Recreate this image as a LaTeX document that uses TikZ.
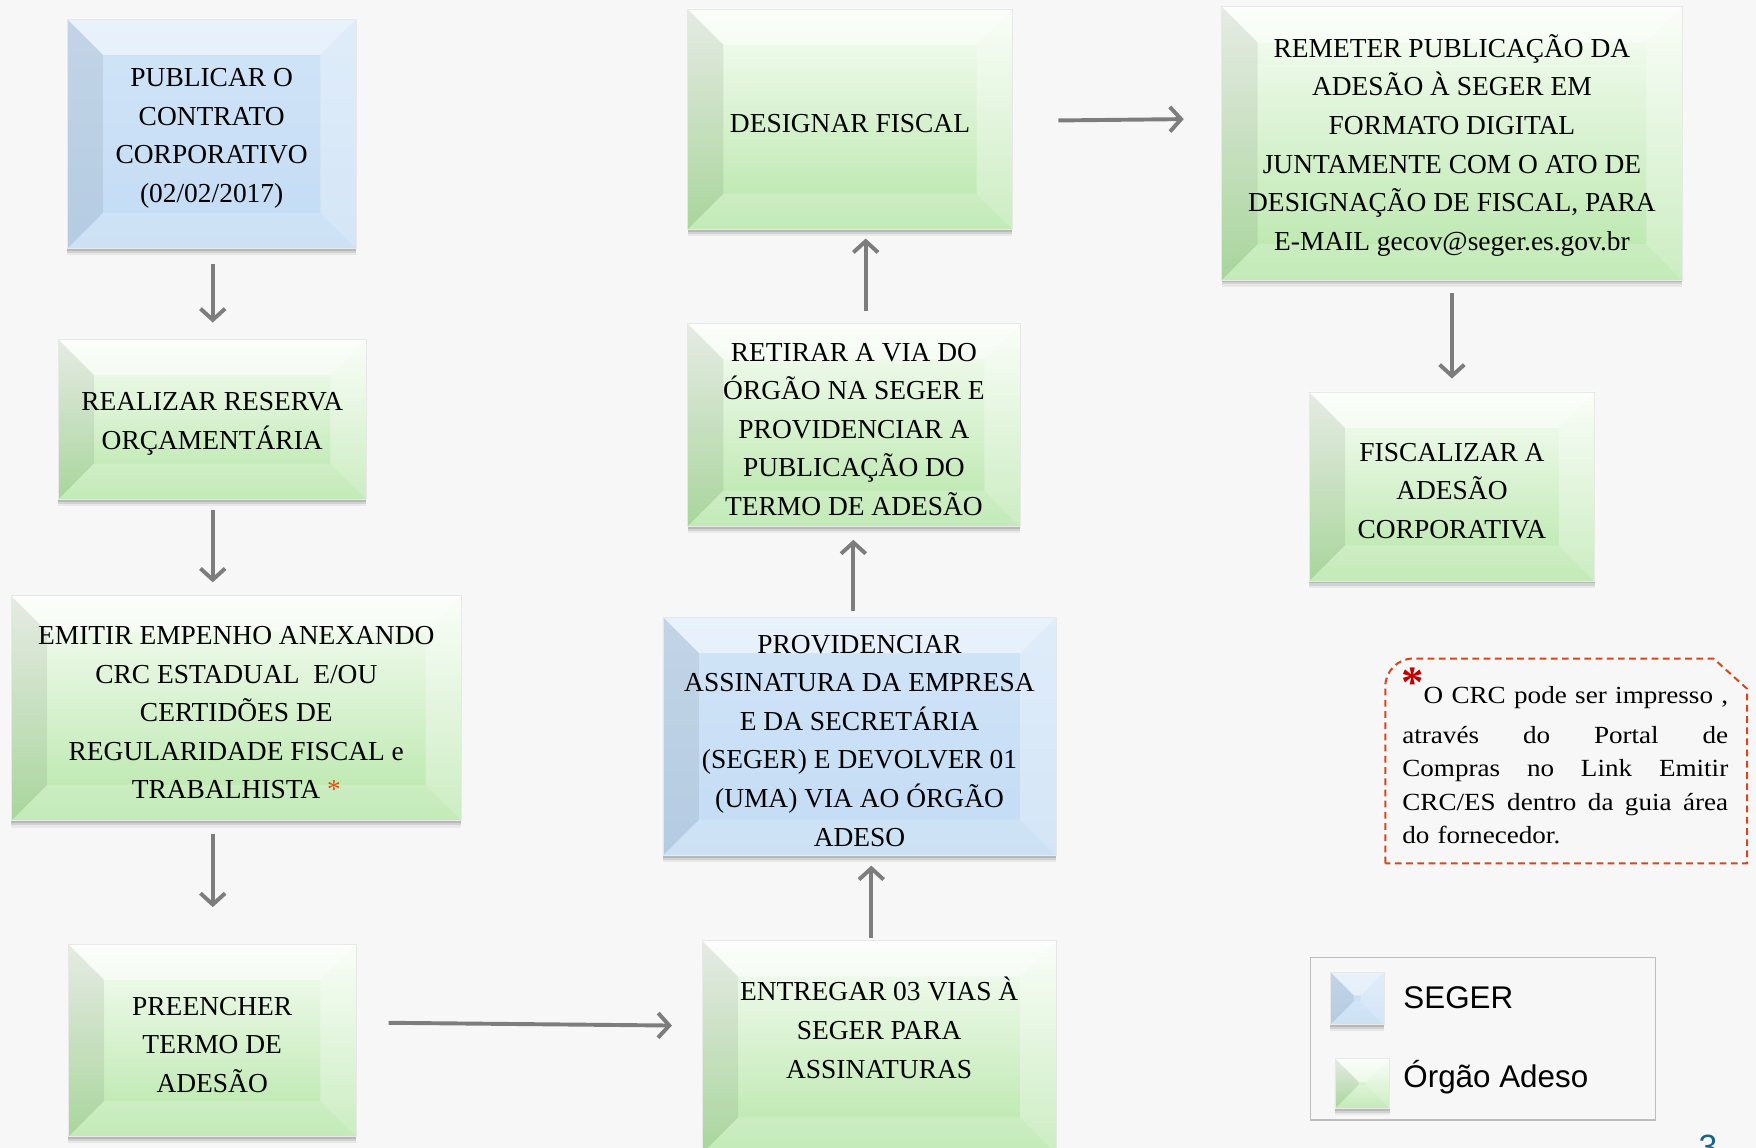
\documentclass[tikz,border=0pt]{standalone}
\usepackage{fontspec}
\setmainfont{Liberation Serif}
\newfontfamily\notefont[FakeStretch=1.1]{Liberation Serif}
\newfontfamily\legfont{Liberation Sans}
\usetikzlibrary{arrows.meta,shadows}

\definecolor{bgc}{RGB}{247,247,247}
\definecolor{bluef}{RGB}{194,219,244}
\definecolor{bluetop}{RGB}{210,229,248}
\definecolor{greentop}{RGB}{248,253,246}
\definecolor{greenbot}{RGB}{182,230,168}
\definecolor{arrc}{RGB}{125,125,125}
\definecolor{notec}{RGB}{212,72,30}
\definecolor{astred}{RGB}{192,0,0}
\definecolor{astor}{RGB}{226,80,20}
\definecolor{legc}{RGB}{190,190,190}
\definecolor{pagec}{RGB}{20,100,130}

\newcommand\topstrut{\rule{0pt}{24pt}}

\tikzset{
  bevel/.style={path picture={
    \def\bv{#1}
    \fill[white,opacity=.5] (path picture bounding box.north west) -- (path picture bounding box.north east)
      -- ([shift={(-\bv,-\bv)}]path picture bounding box.north east) -- ([shift={(\bv,-\bv)}]path picture bounding box.north west) -- cycle;
    \fill[black,opacity=.07] (path picture bounding box.north west) -- (path picture bounding box.south west)
      -- ([shift={(\bv,\bv)}]path picture bounding box.south west) -- ([shift={(\bv,-\bv)}]path picture bounding box.north west) -- cycle;
    \fill[white,opacity=.3] (path picture bounding box.north east) -- (path picture bounding box.south east)
      -- ([shift={(-\bv,\bv)}]path picture bounding box.south east) -- ([shift={(-\bv,-\bv)}]path picture bounding box.north east) -- cycle;
    \fill[white,opacity=.18] (path picture bounding box.south west) -- (path picture bounding box.south east)
      -- ([shift={(-\bv,\bv)}]path picture bounding box.south east) -- ([shift={(\bv,\bv)}]path picture bounding box.south west) -- cycle;
  }},
  softshadow/.style={
    drop shadow={shadow xshift=0pt, shadow yshift=-2pt, opacity=.12, fill=black},
    drop shadow={shadow xshift=0pt, shadow yshift=-4pt, opacity=.09, fill=black},
    drop shadow={shadow xshift=0pt, shadow yshift=-6pt, opacity=.06, fill=black}},
  boxbase/.style={inner sep=0pt, outer sep=0pt, align=center,
    font=\fontsize{24.5}{34.5}\selectfont,
    draw=white!82!gray, line width=.8pt, softshadow},
  bbox/.style={boxbase, top color=bluetop, bottom color=bluef, bevel=32pt},
  gbox/.style={boxbase, top color=greentop, bottom color=greenbot, bevel=32pt},
  legsq/.style={inner sep=0pt, outer sep=0pt, draw=white!82!gray, line width=.6pt, softshadow},
  arr/.style={draw=arrc, line width=3.5pt, -{Straight Barb[length=10pt,width=22pt]}},
}

\begin{document}
\begin{tikzpicture}[x=1pt,y=-1pt]
\useasboundingbox (0,0) rectangle (1568,1025);
\fill[bgc] (0,0) rectangle (1568,1025);

% left column
\node[bbox, minimum width=258pt, minimum height=205pt] (pub) at (189,119.5)
  {\topstrut PUBLICAR O\\CONTRATO\\CORPORATIVO\\(02/02/2017)};
\node[gbox, minimum width=275pt, minimum height=143pt] (res) at (189.5,374.5)
  {\topstrut REALIZAR RESERVA\\ORÇAMENTÁRIA};
\node[gbox, minimum width=402pt, minimum height=201pt] (emi) at (211,632.5)
  {\topstrut EMITIR EMPENHO ANEXANDO\\CRC ESTADUAL\ \ E/OU\\CERTIDÕES DE\\REGULARIDADE FISCAL e\\TRABALHISTA {\color{astor}*}};
\node[gbox, minimum width=257pt, minimum height=172pt] (pre) at (189.5,929)
  {\topstrut PREENCHER\\TERMO DE\\ADESÃO};

% middle column
\node[gbox, minimum width=316pt, minimum height=190pt] (ent) at (785,935)
  {ENTREGAR 03 VIAS À\\SEGER PARA\\ASSINATURAS\\\mbox{}};
\node[bbox, minimum width=351pt, minimum height=213pt] (pro) at (767.5,657.5)
  {\topstrut PROVIDENCIAR\\ASSINATURA DA EMPRESA\\E DA SECRETÁRIA\\(SEGER) E DEVOLVER 01\\(UMA) VIA AO ÓRGÃO\\ADESO};
\node[gbox, minimum width=297pt, minimum height=181pt] (ret) at (762.5,379.5)
  {\topstrut RETIRAR A VIA DO\\ÓRGÃO NA SEGER E\\PROVIDENCIAR A\\PUBLICAÇÃO DO\\TERMO DE ADESÃO};
\node[gbox, minimum width=290pt, minimum height=197pt] (des) at (759,106.5)
  {\topstrut DESIGNAR FISCAL};

% right column
\node[gbox, minimum width=411pt, minimum height=244pt] (rem) at (1296.5,128)
  {\topstrut REMETER PUBLICAÇÃO DA\\ADESÃO À SEGER EM\\FORMATO DIGITAL\\JUNTAMENTE COM O ATO DE\\DESIGNAÇÃO DE FISCAL, PARA\\E-MAIL gecov@seger.es.gov.br};
\node[gbox, minimum width=255pt, minimum height=169pt] (fis) at (1296.5,434.5)
  {\topstrut FISCALIZAR A\\ADESÃO\\CORPORATIVA};

% connectors
\draw[arr, shorten <=14pt, shorten >=15pt] ([xshift=1pt]pub.south) -- ([xshift=.5pt]res.north);
\draw[arr, shorten <=9pt, shorten >=12pt] ([xshift=-21pt]emi.north |- res.south) -- ([xshift=-21pt]emi.north);
\draw[arr, shorten <=12pt, shorten >=33pt] ([xshift=-21pt]emi.south) -- ([xshift=.5pt]pre.north);
\draw[arr, shorten <=29pt, shorten >=27pt] ([yshift=16pt]pre.east) -- ([yshift=19pt]ent.west);
\draw[arr, shorten <=2pt, shorten >=9pt] ([xshift=-7pt]ent.north) -- ([xshift=10.5pt]pro.south);
\draw[arr, shorten <=5pt, shorten >=12pt] ([xshift=-5.5pt]pro.north) -- ([xshift=-.5pt]ret.south);
\draw[arr, shorten <=11pt, shorten >=8pt] ([xshift=10.5pt]ret.north) -- ([xshift=14pt]des.south);
\draw[arr, shorten <=41pt, shorten >=34pt] ([yshift=-1.5pt]des.east) -- ([yshift=22pt]rem.west);
\draw[arr, shorten <=12pt, shorten >=12pt] (rem.south) -- (fis.north);

% note
\draw[notec, line width=1.8pt, dash pattern=on 6pt off 4pt]
  (1237,771) -- (1237,613) arc[start angle=180, end angle=270, radius=25] -- (1530,588) -- (1560,615) -- (1560,771) -- cycle;
\node[anchor=north west, inner sep=0pt, text=astred, font=\fontsize{40}{40}\selectfont\bfseries] (ast) at (1251,596) {*};
\node[anchor=north west, inner sep=0pt, text width=291pt, align=left,
  font=\notefont\fontsize{22}{30}\selectfont] (note) at (1252,613)
  {\hspace*{19pt}O\hfill CRC\hfill pode\hfill ser\hfill impresso\hfill ,\\[5pt]
   através\hfill do\hfill Portal\hfill de\\
   Compras\hfill no\hfill Link\hfill Emitir\\
   CRC/ES\hfill dentro\hfill da\hfill guia\hfill área\\
   do fornecedor.};

% legend
\draw[legc, line width=1.3pt] (1170,855) rectangle (1478,1000);
\node[legsq, minimum width=48pt, minimum height=47pt, top color=bluetop, bottom color=bluef, bevel=21pt] (lb) at (1212,891.5) {};
\node[legsq, minimum width=49pt, minimum height=45pt, top color=greentop, bottom color=greenbot, bevel=21pt] (lg) at (1216.5,967.5) {};
\node[anchor=west, inner sep=0pt, font=\legfont\fontsize{28}{30}\selectfont] (lbt) at (1253,891) {SEGER};
\node[anchor=west, inner sep=0pt, font=\legfont\fontsize{28}{30}\selectfont] (lgt) at (1253,962) {Órgão Adeso};

% page number (cut off at the lower edge, as in the reference)
\node[anchor=north, inner sep=0pt, text=pagec, font=\legfont\fontsize{30}{30}\selectfont] (pg) at (1525,1013) {3};
\end{tikzpicture}
\end{document}
